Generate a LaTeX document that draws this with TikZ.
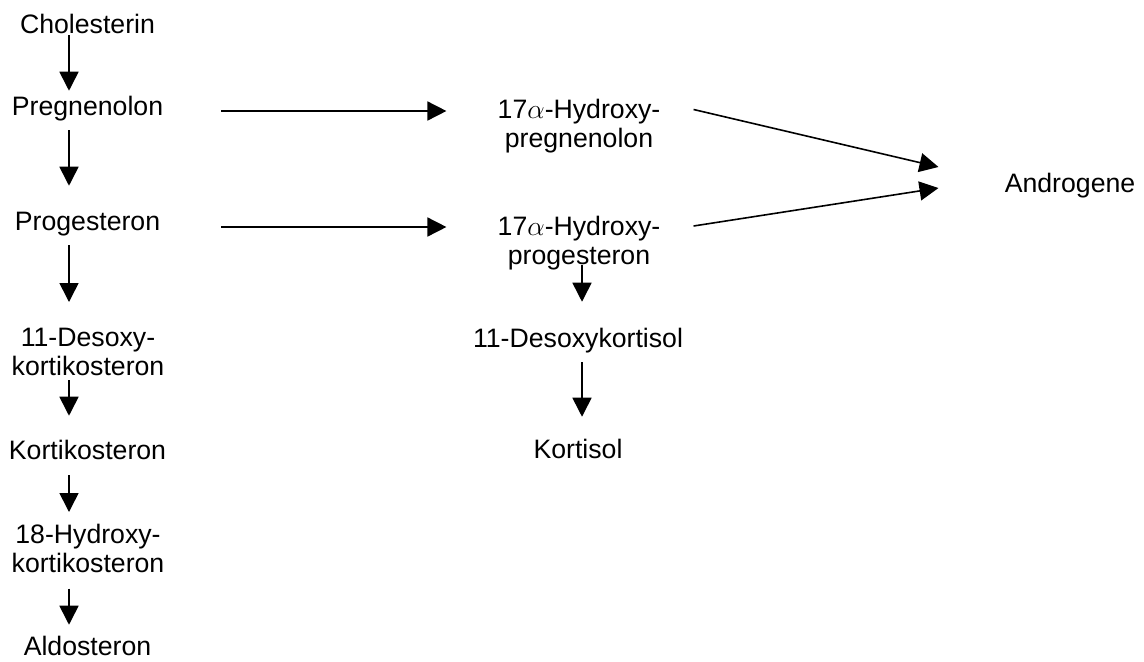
\documentclass[tikz,border=0pt]{standalone}
\usepackage{fontspec}
\setmainfont{Liberation Sans}
\usepackage{tikz}
\usetikzlibrary{arrows.meta, calc}

\newlength\pxu
\setlength\pxu{0.75pt}
\newcommand\molfont{\fontsize{20}{21.75}\selectfont}

\tikzset{
    mol/.style={inner sep=0pt, font=\molfont},
    one/.style={mol, anchor=base, text height=19\pxu, text depth=2\pxu},
    two/.style={mol, anchor=north, align=center},
    arr/.style={-{Triangle[length=14.25pt, width=14.25pt]}, line width=1.2pt},
}

\begin{document}
\begin{tikzpicture}[x=0.75pt, y=-0.75pt]
        \useasboundingbox (0, 0) rectangle (1144, 661);

        % left column
        \node[one] at (87.5, 33) (chol) {Cholesterin};
        \node[one] at (87.5, 115) (preg) {Pregnenolon};
        \node[one] at (87.5, 230) (prog) {Progesteron};
        \node[two] at (88, 328) (ddoc) {11-Desoxy-\\kortikosteron};
        \node[one] at (87.5, 459) (kort) {Kortikosteron};
        \node[two] at (88, 523.5) (hdoc) {18-Hydroxy-\\kortikosteron};
        \node[one] at (87.5, 655) (aldo) {Aldosteron};

        % middle column
        \node[two] at (579, 98.5) (hpreg) {17$\alpha$-Hydroxy-\\pregnenolon};
        \node[two] at (579, 215.5) (hprog) {17$\alpha$-Hydroxy-\\progesteron};
        \node[one] at (578, 347) (dkol) {11-Desoxykortisol};
        \node[one] at (578, 458) (kol) {Kortisol};

        % right
        \node[one] at (1070, 192) (andro) {Androgene};

        \draw[arr, shorten >=5\pxu] ([shift={(-18.5,0)}]chol.south) -- ([shift={(-18.5,0)}]preg.north);
        \draw[arr, shorten <=13\pxu, shorten >=25\pxu] ([shift={(-18.5,0)}]preg.south) -- ([shift={(-18.5,0)}]prog.north);
        \draw[arr, shorten <=13\pxu, shorten >=26\pxu] ([shift={(-18.5,0)}]prog.south) -- ([shift={(-18.5,0)}]prog.south |- ddoc.north);
        \draw[arr, shorten <=4\pxu, shorten >=24\pxu] ([shift={(-19,0)}]ddoc.south) -- ([shift={(-18.5,0)}]kort.north);
        \draw[arr, shorten <=14\pxu, shorten >=11.5\pxu] ([shift={(-18.5,0)}]kort.south) -- ([shift={(-18.5,0)}]kort.south |- hdoc.north);
        \draw[arr, shorten <=16\pxu, shorten >=11\pxu] ([shift={(-19,0)}]hdoc.south) -- ([shift={(-18.5,0)}]aldo.north);

        \draw[arr, shorten <=58\pxu, shorten >=51\pxu] ($(preg.east)+(0,4.5)$) -- ($(preg.east -| hpreg.west)+(0,4.5)$);
        \draw[arr, shorten <=61\pxu, shorten >=51\pxu] ($(prog.east)+(0,5.5)$) -- ($(prog.east -| hprog.west)+(0,5.5)$);

        \draw[arr, shorten <=-4.5\pxu, shorten >=26\pxu] ([shift={(3,0)}]hprog.south) -- ([shift={(3,0)}]hprog.south |- dkol.north);
        \draw[arr, shorten <=13\pxu, shorten >=22\pxu] ([shift={(4,0)}]dkol.south) -- ([shift={(4,0)}]kol.north);

        \draw[arr] ([shift={(33,11)}]hpreg.north east) -- ([shift={(-66,-16.5)}]andro.west);
        \draw[arr] ([shift={(33,10.5)}]hprog.north east) -- ([shift={(-66,4.5)}]andro.west);
    \end{tikzpicture}
\end{document}
